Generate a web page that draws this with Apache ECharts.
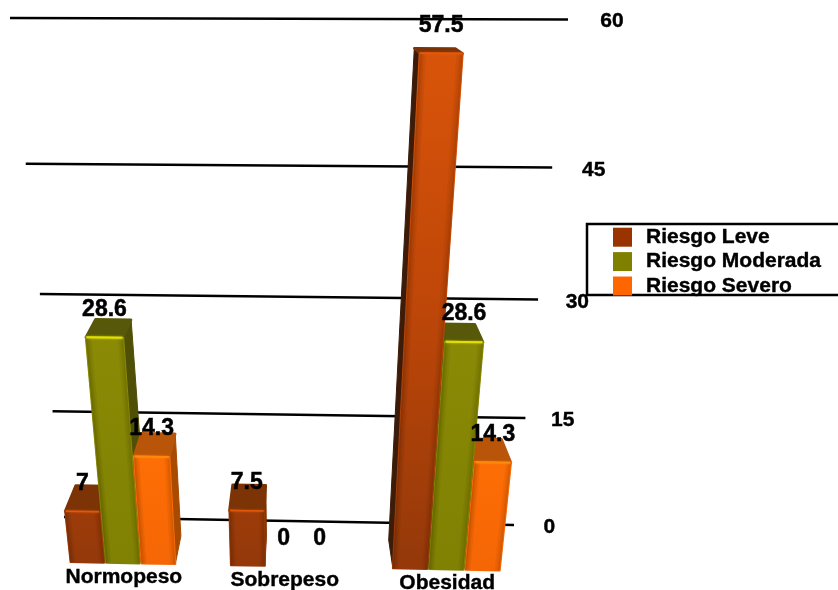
<!DOCTYPE html>
<html>
<head>
<meta charset="utf-8">
<style>html,body{margin:0;padding:0;background:#fff}#chart{width:838px;height:590px}</style>
<script src="https://cdn.jsdelivr.net/npm/echarts@6/dist/echarts.min.js"></script>
</head>
<body>
<div id="chart"></div>
<script>
// Chart content
const categories = ['Normopeso', 'Sobrepeso', 'Obesidad'];
const riesgoLeve = [7, 7.5, 57.5];
const riesgoModerada = [28.6, 0, 28.6];
const riesgoSevero = [14.3, 0, 14.3];
const valueTicks = [0, 15, 30, 45, 60];

// Look of each series' box faces
const faces = {
  'Riesgo Leve': { legend: '#993300', top: '#7c3306', left: '#3c1b08', right: '#7f3004', hi: '#e85a08', hiWidth: 1.5,
    grad: [[50, '#d9540a'], [300, '#bf4708'], [560, '#95390a']] },
  'Riesgo Moderada': { legend: '#808000', top: '#58580a', left: '#46460a', right: '#4f4f06', hi: '#e6e600', hiWidth: 2,
    grad: [[300, '#8c8c06'], [570, '#808003']] },
  'Riesgo Severo': { legend: '#ff6600', top: '#b95508', left: '#8c4000', right: '#a84a00', hi: '#ff8a0c', hiWidth: 2,
    grad: [[430, '#ff7006'], [570, '#f56605']] }
};

const FONT = '"Liberation Sans", Arial, sans-serif';
const W = 838, H = 590;

// Perspective: a unit square (u across, v up) onto a screen quadrilateral
function quadMap(p00, p10, p11, p01) {
  const dx1 = p10[0] - p11[0], dx2 = p01[0] - p11[0], sx = p00[0] - p10[0] + p11[0] - p01[0];
  const dy1 = p10[1] - p11[1], dy2 = p01[1] - p11[1], sy = p00[1] - p10[1] + p11[1] - p01[1];
  const den = dx1 * dy2 - dx2 * dy1;
  const g = (sx * dy2 - dx2 * sy) / den, h = (dx1 * sy - sx * dy1) / den;
  const a = p10[0] - p00[0] + g * p10[0], b = p01[0] - p00[0] + h * p01[0], c = p00[0];
  const d = p10[1] - p00[1] + g * p10[1], e = p01[1] - p00[1] + h * p01[1], f = p00[1];
  return (u, v) => {
    const w = g * u + h * v + 1;
    return [(a * u + b * v + c) / w, (d * u + e * v + f) / w];
  };
}

// The wall carrying the grid lines and the plane of the bars' front faces
const wall = quadMap([64, 517], [514, 525], [568, 19.5], [10, 18]);
const frontPlane = quadMap([43, 561.5], [528, 571], [593, 25.5], [-22, 23.5]);
const depthPoint = [300, -60];
const depthShrink = 0.045;

// Flat grid pixel -> unit square
function toUnit(px, py, cs) {
  return [(px - cs.x) / cs.width, (cs.y + cs.height - py) / cs.height];
}
// d = 0 is the front of a bar, d = 1 its back
function barPoint(px, py, d, cs) {
  const uv = toUnit(px, py, cs);
  const p = frontPlane(uv[0], uv[1]);
  const t = d * depthShrink;
  return [p[0] + (depthPoint[0] - p[0]) * t, p[1] + (depthPoint[1] - p[1]) * t];
}
function poly(points, fill, z2, stroke, sw) {
  return {
    type: 'polygon',
    z2: z2,
    shape: { points: points },
    style: { fill: fill, stroke: stroke || fill, lineWidth: sw === undefined ? 1 : sw, lineJoin: 'round' }
  };
}
function verticalGradient(stops, y0, y1) {
  return {
    type: 'linear', x: 0, y: y0, x2: 0, y2: y1, global: true,
    colorStops: stops.map(s => ({ offset: Math.min(1, Math.max(0, (s[0] - y0) / (y1 - y0))), color: s[1] }))
  };
}

function barSeries(name, values, slot) {
  const look = faces[name];
  return {
    name: name,
    type: 'custom',
    coordinateSystem: 'cartesian2d',
    itemStyle: { color: look.legend },
    clip: false,
    silent: true,
    z: 2,
    data: values.map((v, i) => [i, v]),
    renderItem(params, api) {
      const cs = params.coordSys;
      const cat = api.value(0);
      const val = api.value(1);
      const topC = api.coord([cat, val]);
      const botC = api.coord([cat, 0]);
      const band = api.size([1, 0])[0];
      const cx = topC[0] + slot * 0.222 * band;
      const half = 0.105 * band;
      const x0 = cx - half, x1 = cx + half;
      const yT = topC[1], yB = botC[1];
      const F = (x, y) => barPoint(x, y, 0, cs);
      const B = (x, y) => barPoint(x, y, 1, cs);
      // bars nearer the middle of the scene sit in front of their outer neighbours
      const rank = (cat === categories.length - 1 ? 2 - slot : 2 + slot) * 20;
      const children = [];
      if (val > 0) {
        children.push(poly([F(x0, yB), F(x0, yT), B(x0, yT), B(x0, yB)], look.left, rank));
        children.push(poly([F(x1, yB), F(x1, yT), B(x1, yT), B(x1, yB)], look.right, rank + 1));
        children.push(poly([F(x0, yT), F(x1, yT), B(x1, yT), B(x0, yT)], look.top, rank + 2, look.top, 2.5));
        const grad = verticalGradient(look.grad, 0, H);
        children.push(poly([F(x0, yB), F(x0, yT), F(x1, yT), F(x1, yB)], grad, rank + 3, grad, 2));
        // soft shading along the vertical edges of the front face
        [0.03, 0.06, 0.1, 0.15].forEach((share, k) => {
          const e = share * (x1 - x0);
          children.push(poly([F(x0, yB), F(x0, yT), F(x0 + e, yT), F(x0 + e, yB)], 'rgba(0,0,0,0.05)', rank + 4 + k, 'none', 0));
          children.push(poly([F(x1 - e, yB), F(x1 - e, yT), F(x1, yT), F(x1, yB)], 'rgba(0,0,0,0.04)', rank + 4 + k, 'none', 0));
        });
        // bright bevel along the top of the front face
        children.push({
          type: 'polyline',
          z2: rank + 9,
          shape: { points: [F(x0 + 1, yT), F(x1 - 1, yT)] },
          style: { stroke: look.hi, lineWidth: look.hiWidth, fill: 'none', opacity: 0.85, shadowBlur: 2, shadowColor: look.hi }
        });
      }
      const anchor = F(cx, yT);
      children.push({
        type: 'text',
        z2: 200,
        style: {
          text: String(val),
          x: anchor[0],
          y: anchor[1] - 28,
          align: 'center',
          verticalAlign: 'middle',
          fill: '#000',
          stroke: '#000',
          lineWidth: 0.5,
          font: 'bold 23px ' + FONT
        }
      });
      return { type: 'group', children: children };
    }
  };
}

const gridSeries = {
  type: 'custom',
  name: 'rejilla',
  coordinateSystem: 'cartesian2d',
  clip: false,
  silent: true,
  data: valueTicks.map(v => [0, v]),
  z: 1,
  renderItem(params, api) {
    const cs = params.coordSys;
    const c = api.coord([0, api.value(1)]);
    const v = toUnit(c[0], c[1], cs)[1];
    const a = wall(0, v), b = wall(1, v), t = wall(1.0775, v);
    return {
      type: 'group',
      children: [
        { type: 'line', shape: { x1: a[0], y1: a[1], x2: b[0], y2: b[1] }, style: { stroke: '#000', lineWidth: 2.5 } },
        { type: 'text', style: { text: String(api.value(1)), x: t[0], y: t[1] + 2, align: 'center', verticalAlign: 'middle', fill: '#000', stroke: '#000', lineWidth: 0.4, font: 'bold 21px ' + FONT } }
      ]
    };
  }
};

const categorySeries = {
  type: 'custom',
  name: 'categorias',
  coordinateSystem: 'cartesian2d',
  clip: false,
  silent: true,
  data: categories.map((c, i) => [i, 0]),
  z: 5,
  renderItem(params, api) {
    const cs = params.coordSys;
    const i = api.value(0);
    const c = api.coord([i, 0]);
    const p = barPoint(c[0], c[1], 0, cs);
    return {
      type: 'text',
      style: { text: categories[i], x: p[0] + 1, y: p[1] + 14, align: 'center', verticalAlign: 'middle', fill: '#000', stroke: '#000', lineWidth: 0.4, font: 'bold 21px ' + FONT }
    };
  }
};

const chart = echarts.init(document.getElementById('chart'), null, { renderer: 'canvas', width: W, height: H });
chart.setOption({
  animation: false,
  backgroundColor: '#ffffff',
  grid: { left: 0, right: 0, top: 0, bottom: 0 },
  xAxis: { type: 'category', data: categories, show: false },
  yAxis: { type: 'value', min: 0, max: 60, interval: 15, show: false },
  legend: {
    orient: 'vertical',
    left: 613,
    top: 226.5,
    padding: 0,
    itemWidth: 19,
    itemHeight: 19,
    itemGap: 3,
    selectedMode: false,
    icon: 'rect',
    data: ['Riesgo Leve', 'Riesgo Moderada', 'Riesgo Severo'],
    textStyle: { color: '#000', fontFamily: FONT, fontWeight: 'bold', fontSize: 21, lineHeight: 19, padding: [0, 0, 0, 9], textBorderColor: '#000', textBorderWidth: 0.4 },
    z: 20
  },
  graphic: [{
    type: 'rect',
    z: 15,
    silent: true,
    shape: { x: 587, y: 224, width: 300, height: 71 },
    style: { fill: '#fff', stroke: '#000', lineWidth: 2.5 }
  }],
  series: [
    gridSeries,
    barSeries('Riesgo Leve', riesgoLeve, -1),
    barSeries('Riesgo Moderada', riesgoModerada, 0),
    barSeries('Riesgo Severo', riesgoSevero, 1),
    categorySeries
  ]
});
</script>
</body>
</html>
